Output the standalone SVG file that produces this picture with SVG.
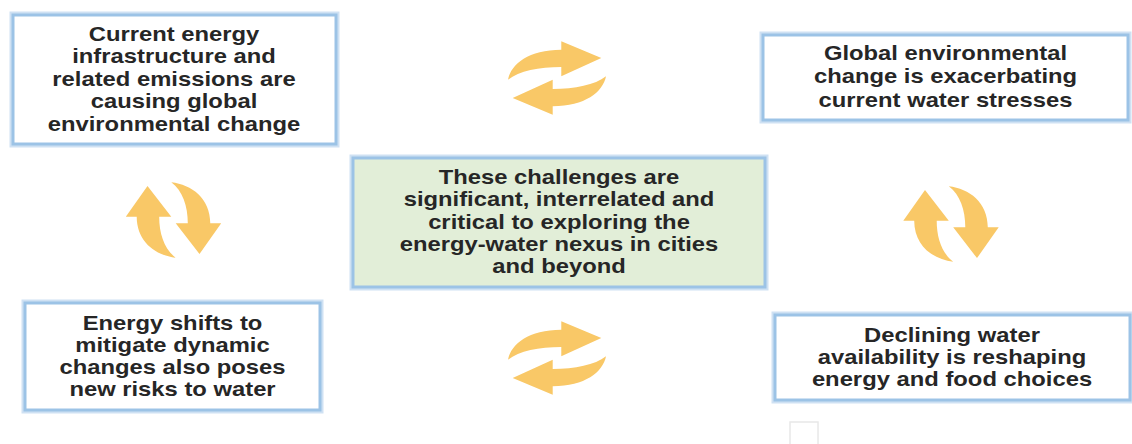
<svg xmlns="http://www.w3.org/2000/svg" width="1132" height="444" viewBox="0 0 1132 444">
<style>
.box{fill:#ffffff;stroke:#9cc3e6;stroke-width:3}
.glow{fill:none;stroke:#cfe1f3;stroke-width:7}
.center{fill:#e2eed8}
.t{font-family:"Liberation Sans",Arial,sans-serif;font-weight:700;font-size:19.5px;fill:#262626;text-anchor:middle}
.arr{fill:#f9c867}
</style>
<defs>
<path id="half" d="M -37.7,1.7 C -35.4,-14 -21.5,-28.3 3.3,-28.3 L 3.3,-36.7 L 34.1,-20 L 3.3,-1.7 L 3.3,-11 C -13.8,-11 -29.2,-7 -37.7,1.7 Z"/>
<g id="cyc">
<use href="#half"/>
<use href="#half" transform="rotate(180)"/>
</g>
</defs>
<rect width="1132" height="444" fill="#ffffff"/>
<g id="connectors" class="arr">
<use href="#cyc" transform="translate(557,78) scale(1.3,1)"/>
<use href="#cyc" transform="translate(557,358) scale(1.3,1)"/>
<use href="#cyc" transform="translate(173.5,220) scale(1.3,1) rotate(90)"/>
<use href="#cyc" transform="translate(951,224) scale(1.3,1) rotate(90)"/>
</g>
<g id="node-top-left">
<rect class="glow" x="13" y="15" width="323" height="129"/>
<rect class="box" x="13" y="15" width="323" height="129"/>
<g transform="translate(174,0) scale(1.22,1)">
<text class="t" x="0" y="41">Current energy</text>
<text class="t" x="0" y="63.5">infrastructure and</text>
<text class="t" x="0" y="86">related emissions are</text>
<text class="t" x="0" y="108.5">causing global</text>
<text class="t" x="0" y="131">environmental change</text>
</g>
</g>
<g id="node-top-right">
<rect class="glow" x="763" y="35" width="365" height="85"/>
<rect class="box" x="763" y="35" width="365" height="85"/>
<g transform="translate(945.5,0) scale(1.22,1)">
<text class="t" x="0" y="60">Global environmental</text>
<text class="t" x="0" y="83.5">change is exacerbating</text>
<text class="t" x="0" y="107">current water stresses</text>
</g>
</g>
<g id="node-center">
<rect class="glow" x="353" y="158" width="412" height="129"/>
<rect class="box center" x="353" y="158" width="412" height="129"/>
<g transform="translate(559,0) scale(1.22,1)">
<text class="t" x="0" y="184">These challenges are</text>
<text class="t" x="0" y="206.5">significant, interrelated and</text>
<text class="t" x="0" y="229">critical to exploring the</text>
<text class="t" x="0" y="251">energy-water nexus in cities</text>
<text class="t" x="0" y="273">and beyond</text>
</g>
</g>
<g id="node-bottom-left">
<rect class="glow" x="25" y="303" width="295" height="107"/>
<rect class="box" x="25" y="303" width="295" height="107"/>
<g transform="translate(172.5,0) scale(1.22,1)">
<text class="t" x="0" y="330">Energy shifts to</text>
<text class="t" x="0" y="352">mitigate dynamic</text>
<text class="t" x="0" y="374">changes also poses</text>
<text class="t" x="0" y="396">new risks to water</text>
</g>
</g>
<g id="node-bottom-right">
<rect class="glow" x="775" y="315" width="355" height="85"/>
<rect class="box" x="775" y="315" width="355" height="85"/>
<g transform="translate(952,0) scale(1.22,1)">
<text class="t" x="0" y="342">Declining water</text>
<text class="t" x="0" y="364">availability is reshaping</text>
<text class="t" x="0" y="386">energy and food choices</text>
</g>
</g>
<rect x="790" y="422" width="28" height="24" fill="none" stroke="#e8e8e8" stroke-width="1.5"/>
</svg>
